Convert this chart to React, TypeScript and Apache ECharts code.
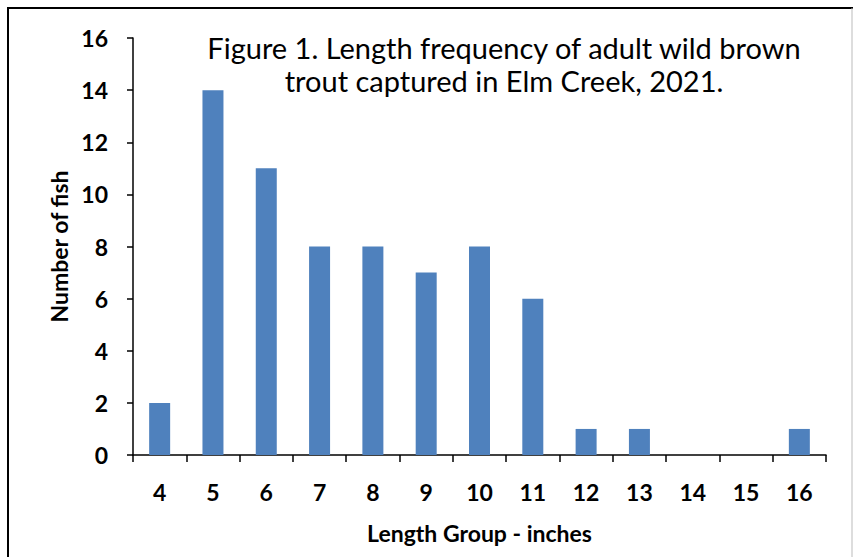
import React, { useEffect, useRef } from "react";
import * as echarts from "echarts";

const categories = ["4", "5", "6", "7", "8", "9", "10", "11", "12", "13", "14", "15", "16"];
const counts = [2, 14, 11, 8, 8, 7, 8, 6, 1, 1, 0, 0, 1];
const titleLines = ["Figure 1. Length frequency of adult wild brown", "trout captured in Elm Creek, 2021."];

const FONT = "Lato, 'Noto Sans', sans-serif";

export default function App() {
  const ref = useRef<HTMLDivElement>(null);
  useEffect(() => {
    if (!ref.current) return;
    const chart = echarts.init(ref.current, null, { renderer: "svg" });
    chart.setOption({
      animation: false,
      backgroundColor: "#ffffff",
      grid: { left: 133, right: 28, top: 38, bottom: 102 },
      xAxis: {
        type: "category",
        data: categories,
        name: "Length Group - inches",
        nameLocation: "middle",
        nameGap: 66,
        nameTextStyle: { fontFamily: FONT, fontWeight: "bold", fontSize: 23, color: "#000" },
        axisLine: { lineStyle: { color: "#000", width: 1.5 } },
        axisTick: { show: true, length: 7, alignWithLabel: false, lineStyle: { color: "#000", width: 1.5 } },
        axisLabel: { fontFamily: FONT, fontWeight: "bold", fontSize: 23, color: "#000", margin: 25 },
        splitLine: { show: false },
      },
      yAxis: {
        type: "value",
        min: 0,
        max: 16,
        interval: 2,
        name: "Number of fish",
        nameLocation: "middle",
        nameRotate: 90,
        nameGap: 63,
        nameTextStyle: { fontFamily: FONT, fontWeight: "bold", fontSize: 23, color: "#000" },
        axisLine: { show: true, lineStyle: { color: "#000", width: 1.5 } },
        axisTick: { show: true, length: 6, lineStyle: { color: "#000", width: 1.5 } },
        axisLabel: { fontFamily: FONT, fontWeight: "bold", fontSize: 23, color: "#000", margin: 25 },
        splitLine: { show: false },
      },
      series: [
        {
          type: "bar",
          data: counts,
          barWidth: 21,
          itemStyle: { color: "#4F81BD" },
        },
      ],
      graphic: [
        { type: "line", shape: { x1: 7, y1: 8, x2: 853, y2: 8 }, style: { stroke: "#000", lineWidth: 2 } },
        { type: "line", shape: { x1: 8, y1: 7, x2: 8, y2: 557 }, style: { stroke: "#000", lineWidth: 2 } },
        { type: "line", shape: { x1: 852, y1: 8, x2: 852, y2: 557 }, style: { stroke: "#bbbbbb", lineWidth: 1 } },
        {
          type: "text",
          x: 504,
          y: 47,
          style: { text: titleLines[0], font: `29px ${FONT}`, fill: "#000", textAlign: "center", textVerticalAlign: "middle" },
        },
        {
          type: "text",
          x: 504,
          y: 80,
          style: { text: titleLines[1], font: `29px ${FONT}`, fill: "#000", textAlign: "center", textVerticalAlign: "middle" },
        },
      ],
    });
    return () => chart.dispose();
  }, []);
  return <div ref={ref} style={{ position: "fixed", left: 0, top: 0, width: 854, height: 557 }} />;
}
